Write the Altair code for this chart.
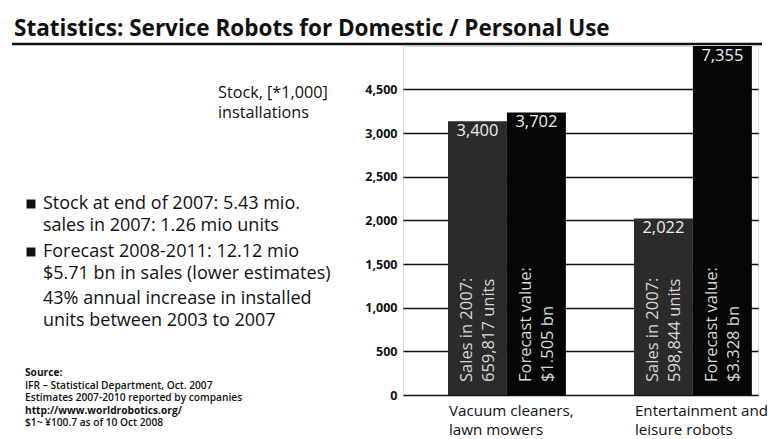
import altair as alt
import pandas as pd

# ---------------- data ----------------
categories = ["Vacuum cleaners,\nlawn mowers", "Entertainment and\nleisure robots"]
series = ["Sales in 2007", "Forecast value"]
stock = [[3400, 3702], [2022, 7355]]
notes = [["Sales in 2007:\n659,817 units", "Forecast value:\n$1.505 bn"],
         ["Sales in 2007:\n598,844 units", "Forecast value:\n$3.328 bn"]]
y_ticks = [0, 500, 1000, 1500, 2000, 2500, 3000, 4500]
scale_breaks = [0, 3000, 4500, 7355]

title_text = "Statistics: Service Robots for Domestic / Personal Use"
axis_title = "Stock, [*1,000]\ninstallations"
bullet_1 = "Stock at end of 2007: 5.43 mio.\nsales in 2007: 1.26 mio units"
bullet_2 = "Forecast 2008-2011: 12.12 mio\n$5.71 bn in sales (lower estimates)"
bullet_3 = "43% annual increase in installed\nunits between 2003 to 2007"
source_head = "Source:"
source_1 = "IFR \u2013 Statistical Department, Oct. 2007"
source_2 = "Estimates 2007-2010 reported by companies"
source_url = "http://www.worldrobotics.org/"
source_fx = "$1~ \u00a5100.7 as of 10 Oct 2008"

rows = []
for ci, cat in enumerate(categories):
    for si, ser in enumerate(series):
        rows.append({"category": cat, "series": ser, "value": stock[ci][si],
                     "label": f"{stock[ci][si]:,}", "note": notes[ci][si]})
df = pd.DataFrame(rows)
cat_df = pd.DataFrame({"category": categories})

# ---------------- layout ----------------
W, H = 771, 439
L, T = 403, 46           # plot origin in page pixels
PW, PH = 355, 349        # plot area
FONT = "Open Sans"

x_enc = alt.X("category:N", sort=categories, axis=None,
              scale=alt.Scale(paddingInner=0.366, paddingOuter=0.1375, align=0.88))
xo_enc = alt.XOffset("series:N", sort=series, scale=alt.Scale(paddingInner=0, paddingOuter=0))
y_scale = alt.Scale(domain=scale_breaks, range=[PH, 87, 43, 0], nice=False, zero=False, clamp=True)

base = alt.Chart(df)

bars = base.mark_bar().encode(
    x=x_enc, xOffset=xo_enc,
    y=alt.Y("value:Q", scale=y_scale,
            axis=alt.Axis(values=y_ticks, labelExpr="format(datum.value, ',')", title=None, grid=True,
                          gridColor="#111", gridWidth=1.6, gridOpacity=1,
                          domain=False, ticks=False, labelPadding=6,
                          labelFont=FONT, labelFontSize=12.5, labelFontWeight="bold",
                          labelColor="#111")),
    color=alt.Color("series:N", sort=series, legend=None,
                    scale=alt.Scale(domain=series, range=["#2b2b2b", "#060606"])),
)

value_labels = base.mark_text(color="#eeeeee", font=FONT, fontSize=16.5, baseline="top", dy=2).encode(
    x=x_enc, xOffset=xo_enc,
    y=alt.Y("value:Q", scale=y_scale),
    text="label:N",
)

note_labels = base.mark_text(color="#d8d8d8", font=FONT, fontSize=16.5, angle=270, align="left",
                             baseline="middle", lineBreak="\n", lineHeight=22, dy=-10).encode(
    x=x_enc, xOffset=xo_enc,
    y=alt.value(PH - 13),
    text="note:N",
)

cat_labels = alt.Chart(cat_df).mark_text(align="left", baseline="top", font=FONT, fontSize=15.2,
                                         lineBreak="\n", lineHeight=19, color="#111", dx=-58).encode(
    x=x_enc, y=alt.value(PH + 9), text="category:N",
)


def free_text(text, x, y, size, weight="normal", line_height=None, baseline="alphabetic"):
    mk = dict(align="left", baseline=baseline, font=FONT, fontSize=size, fontWeight=weight,
              color="#111", lineBreak="\n")
    if line_height:
        mk["lineHeight"] = line_height
    return alt.Chart(pd.DataFrame({"t": [text]})).mark_text(**mk).encode(
        x=alt.value(x - L), y=alt.value(y - T), text="t:N")


def square(x, y):
    return alt.Chart(pd.DataFrame({"t": [0]})).mark_square(size=80, color="#111", opacity=1).encode(
        x=alt.value(x - L), y=alt.value(y - T))


title_line = alt.Chart(pd.DataFrame({"t": [0]})).mark_rule(color="#111", strokeWidth=2.4).encode(
    x=alt.value(12 - L), x2=alt.value(762 - L), y=alt.value(44 - T))

layers = [
    title_line,
    free_text(title_text, 14, 36, 22.5, "bold"),
    free_text(axis_title, 218, 98, 16.2, line_height=20),
    square(31, 204), free_text(bullet_1, 43, 209, 18, line_height=22),
    square(31, 252), free_text(bullet_2, 43, 257, 18, line_height=22),
    free_text(bullet_3, 43, 304, 18, line_height=22),
    free_text(source_head, 25, 376, 10.2, "bold"),
    free_text(source_1, 25, 388.5, 10.2, 600),
    free_text(source_2, 25, 401, 10.2, 600),
    free_text(source_url, 25, 413.5, 10.2, "bold"),
    free_text(source_fx, 25, 426, 10.2, 600),
    bars, value_labels, note_labels, cat_labels,
]

chart = alt.layer(*layers).properties(
    width=PW, height=PH,
    autosize=alt.AutoSizeParams(type="none"),
    padding={"left": L, "top": T, "right": W - L - PW, "bottom": H - T - PH},
).configure_view(stroke=None).configure(background="white")

chart.save("out.html", embed_options={"renderer": "svg", "actions": False})
